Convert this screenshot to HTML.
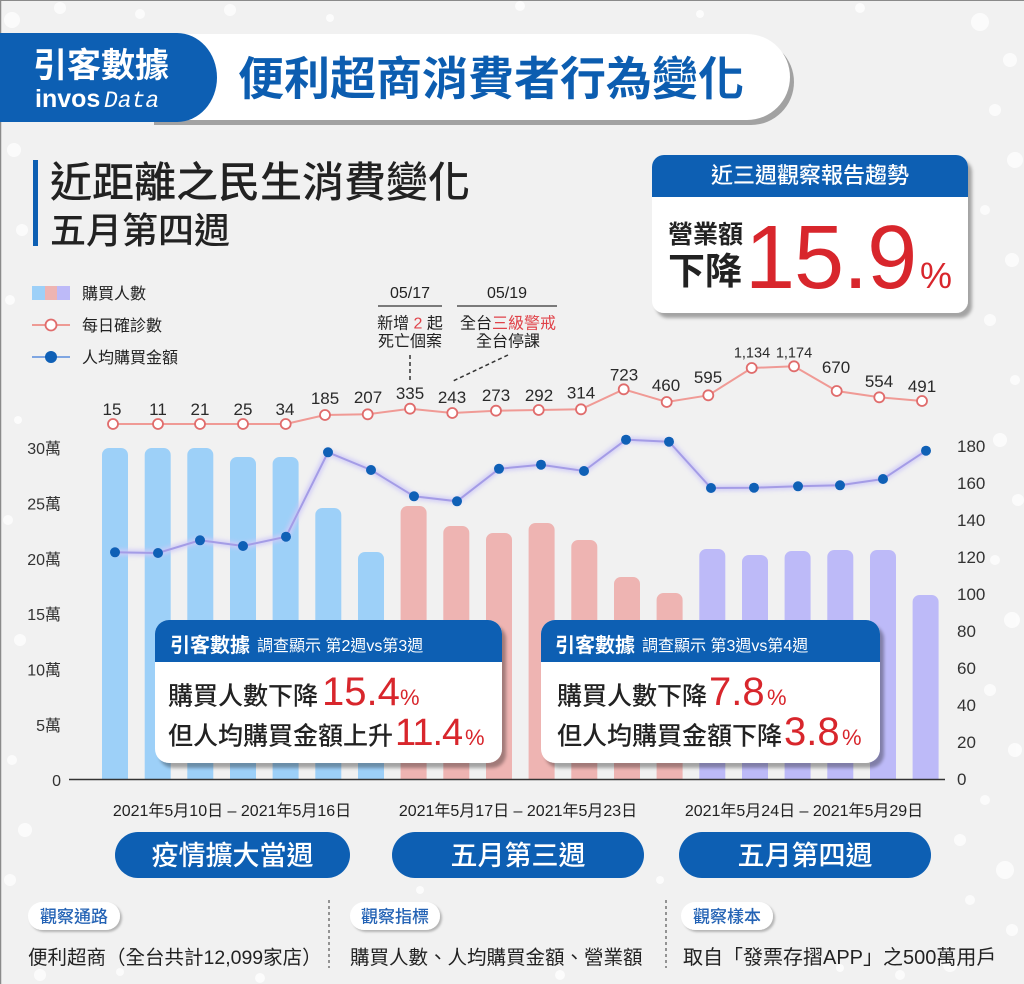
<!DOCTYPE html>
<html>
<head>
<meta charset="utf-8">
<style>
  html, body { margin:0; padding:0; background:#f1f1f1; }
  body { width:1024px; height:984px; overflow:hidden; }
  svg { display:block; }
  text { font-family: "Liberation Sans", "Noto Sans CJK TC", sans-serif; }
</style>
</head>
<body>
<svg width="1024" height="984" viewBox="0 0 1024 984" xmlns="http://www.w3.org/2000/svg">
  <defs>
    <filter id="sh" x="-10%" y="-10%" width="130%" height="140%">
      <feDropShadow dx="4" dy="5" stdDeviation="1.5" flood-color="#000" flood-opacity="0.32"/>
    </filter>
    <filter id="sh2" x="-10%" y="-20%" width="130%" height="160%">
      <feDropShadow dx="2" dy="2" stdDeviation="1" flood-color="#000" flood-opacity="0.25"/>
    </filter>
    <filter id="glow" x="-5%" y="-20%" width="110%" height="140%">
      <feGaussianBlur stdDeviation="2"/>
    </filter>
  </defs>

  <!-- background -->
  <rect x="0" y="0" width="1024" height="984" fill="#f1f1f1"/>
  <g fill="#ffffff" opacity="0.75">
    <circle cx="12" cy="20" r="8"/><circle cx="60" cy="8" r="6"/><circle cx="140" cy="14" r="5"/>
    <circle cx="230" cy="10" r="6"/><circle cx="330" cy="18" r="4"/><circle cx="520" cy="6" r="5"/>
    <circle cx="700" cy="14" r="4"/><circle cx="860" cy="8" r="5"/><circle cx="980" cy="22" r="9"/>
    <circle cx="1010" cy="60" r="7"/><circle cx="995" cy="110" r="6"/><circle cx="1015" cy="160" r="8"/>
    <circle cx="985" cy="210" r="5"/><circle cx="1012" cy="260" r="7"/><circle cx="990" cy="320" r="6"/>
    <circle cx="1015" cy="380" r="5"/><circle cx="1000" cy="440" r="7"/><circle cx="1018" cy="500" r="6"/>
    <circle cx="995" cy="560" r="5"/><circle cx="1012" cy="620" r="8"/><circle cx="990" cy="690" r="6"/>
    <circle cx="1015" cy="750" r="7"/><circle cx="985" cy="800" r="5"/><circle cx="960" cy="840" r="6"/>
    <circle cx="1005" cy="870" r="9"/><circle cx="970" cy="900" r="5"/><circle cx="1012" cy="930" r="6"/>
    <circle cx="950" cy="965" r="7"/><circle cx="900" cy="975" r="5"/><circle cx="840" cy="968" r="4"/>
    <circle cx="14" cy="150" r="7"/><circle cx="22" cy="230" r="6"/><circle cx="10" cy="300" r="5"/>
    <circle cx="18" cy="420" r="4"/><circle cx="8" cy="520" r="5"/><circle cx="20" cy="640" r="6"/>
    <circle cx="12" cy="760" r="5"/><circle cx="25" cy="830" r="7"/><circle cx="10" cy="880" r="6"/>
    <circle cx="40" cy="975" r="6"/><circle cx="120" cy="972" r="4"/><circle cx="260" cy="978" r="5"/>
    <circle cx="420" cy="890" r="4"/><circle cx="560" cy="975" r="5"/><circle cx="660" cy="880" r="4"/>
  </g>
  <!-- image border -->
  <line x1="0.5" y1="0" x2="0.5" y2="984" stroke="#8a8a8a" stroke-width="1.5"/>
  <line x1="0" y1="0.5" x2="1024" y2="0.5" stroke="#8a8a8a" stroke-width="1"/>

  <!-- ===== Header ===== -->
  <path d="M150 34 H747 A43 43 0 0 1 747 120 H150 Z" fill="#a2a2a2" transform="translate(4,5)"/>
  <path d="M150 34 H747 A43 43 0 0 1 747 120 H150 Z" fill="#ffffff"/>
  <path d="M0 33 H177 A40 44.5 0 0 1 177 122 H0 Z" fill="#0d5fb3"/>
  <text x="33" y="77" font-size="34" font-weight="700" fill="#ffffff">引客數據</text>
  <text x="35" y="107" font-size="25" font-weight="700" fill="#ffffff">invos</text>
  <text x="104" y="107" font-size="23" font-style="italic" fill="#ffffff" style="font-family:'Liberation Mono', monospace;">Data</text>
  <text x="238" y="95" font-size="46" font-weight="700" fill="#0c5db0">便利超商消費者行為變化</text>

  <!-- ===== Title ===== -->
  <rect x="33" y="160" width="5" height="86" fill="#0d5fb3"/>
  <text x="50" y="197" font-size="42" font-weight="500" fill="#222">近距離之民生消費變化</text>
  <text x="50" y="243" font-size="36" font-weight="500" fill="#222">五月第四週</text>

  <!-- ===== Top-right box ===== -->
  <g filter="url(#sh)">
    <rect x="652" y="155" width="316" height="158" rx="12" fill="#ffffff"/>
  </g>
  <path d="M652 197 V167 A12 12 0 0 1 664 155 H956 A12 12 0 0 1 968 167 V197 Z" fill="#0d5fb3"/>
  <text x="810" y="183" font-size="22" font-weight="500" fill="#ffffff" text-anchor="middle">近三週觀察報告趨勢</text>
  <text x="668" y="243" font-size="25" font-weight="700" fill="#222">營業額</text>
  <text x="668" y="284" font-size="37" font-weight="700" fill="#222">下降</text>
  <text x="745" y="288" font-size="90" fill="#d8262c" letter-spacing="-1">15.9</text>
  <text x="920" y="288" font-size="36" fill="#d8262c">%</text>

  <!-- ===== Legend ===== -->
  <rect x="32" y="286" width="13" height="14" fill="#9dd0f8"/>
  <rect x="45" y="286" width="12" height="14" fill="#eeb4b2"/>
  <rect x="57" y="286" width="13" height="14" fill="#bdbaf8"/>
  <text x="82" y="299" font-size="16" fill="#222">購買人數</text>
  <line x1="32" y1="325" x2="70" y2="325" stroke="#ee9a94" stroke-width="2"/>
  <circle cx="51" cy="325" r="5.5" fill="#fff" stroke="#e06c6c" stroke-width="1.8"/>
  <text x="82" y="331" font-size="16" fill="#222">每日確診數</text>
  <line x1="32" y1="357" x2="70" y2="357" stroke="#7fa6e2" stroke-width="2"/>
  <circle cx="51" cy="357" r="6" fill="#0f60b6"/>
  <text x="82" y="363" font-size="16" fill="#222">人均購買金額</text>

  <!-- ===== Annotations ===== -->
  <g font-size="16" fill="#222" text-anchor="middle">
    <text x="410" y="298">05/17</text>
    <text x="410" y="328.5">新增 <tspan fill="#e0434a">2</tspan> 起</text>
    <text x="410" y="346.5">死亡個案</text>
    <text x="507" y="298">05/19</text>
    <text x="508" y="328.5">全台<tspan fill="#e0434a">三級警戒</tspan></text>
    <text x="508" y="346.5">全台停課</text>
  </g>
  <line x1="378" y1="306" x2="442" y2="306" stroke="#333" stroke-width="1.2"/>
  <line x1="457" y1="306" x2="557" y2="306" stroke="#333" stroke-width="1.2"/>
  <line x1="410" y1="355" x2="410" y2="381" stroke="#333" stroke-width="1.5" stroke-dasharray="4 3"/>
  <line x1="508" y1="355" x2="453" y2="381" stroke="#333" stroke-width="1.5" stroke-dasharray="4 3"/>

  <!-- ===== Bars ===== -->
  <g>
    <path d="M102 779 V455 A7 7 0 0 1 109 448 H121 A7 7 0 0 1 128 455 V779 Z" fill="#9dd0f8"/>
    <path d="M144.7 779 V455 A7 7 0 0 1 151.7 448 H163.7 A7 7 0 0 1 170.7 455 V779 Z" fill="#9dd0f8"/>
    <path d="M187.3 779 V455 A7 7 0 0 1 194.3 448 H206.3 A7 7 0 0 1 213.3 455 V779 Z" fill="#9dd0f8"/>
    <path d="M230 779 V464 A7 7 0 0 1 237 457 H249 A7 7 0 0 1 256 464 V779 Z" fill="#9dd0f8"/>
    <path d="M272.6 779 V464 A7 7 0 0 1 279.6 457 H291.6 A7 7 0 0 1 298.6 464 V779 Z" fill="#9dd0f8"/>
    <path d="M315.3 779 V515 A7 7 0 0 1 322.3 508 H334.3 A7 7 0 0 1 341.3 515 V779 Z" fill="#9dd0f8"/>
    <path d="M358 779 V559 A7 7 0 0 1 365 552 H377 A7 7 0 0 1 384 559 V779 Z" fill="#9dd0f8"/>
    <path d="M400.6 779 V513 A7 7 0 0 1 407.6 506 H419.6 A7 7 0 0 1 426.6 513 V779 Z" fill="#eeb4b2"/>
    <path d="M443.3 779 V533 A7 7 0 0 1 450.3 526 H462.3 A7 7 0 0 1 469.3 533 V779 Z" fill="#eeb4b2"/>
    <path d="M486 779 V540 A7 7 0 0 1 493 533 H505 A7 7 0 0 1 512 540 V779 Z" fill="#eeb4b2"/>
    <path d="M528.6 779 V530 A7 7 0 0 1 535.6 523 H547.6 A7 7 0 0 1 554.6 530 V779 Z" fill="#eeb4b2"/>
    <path d="M571.3 779 V547 A7 7 0 0 1 578.3 540 H590.3 A7 7 0 0 1 597.3 547 V779 Z" fill="#eeb4b2"/>
    <path d="M614 779 V584 A7 7 0 0 1 621 577 H633 A7 7 0 0 1 640 584 V779 Z" fill="#eeb4b2"/>
    <path d="M656.6 779 V600 A7 7 0 0 1 663.6 593 H675.6 A7 7 0 0 1 682.6 600 V779 Z" fill="#eeb4b2"/>
    <path d="M699.3 779 V556 A7 7 0 0 1 706.3 549 H718.3 A7 7 0 0 1 725.3 556 V779 Z" fill="#bdbaf8"/>
    <path d="M742 779 V562 A7 7 0 0 1 749 555 H761 A7 7 0 0 1 768 562 V779 Z" fill="#bdbaf8"/>
    <path d="M784.6 779 V558 A7 7 0 0 1 791.6 551 H803.6 A7 7 0 0 1 810.6 558 V779 Z" fill="#bdbaf8"/>
    <path d="M827.3 779 V557 A7 7 0 0 1 834.3 550 H846.3 A7 7 0 0 1 853.3 557 V779 Z" fill="#bdbaf8"/>
    <path d="M870 779 V557 A7 7 0 0 1 877 550 H889 A7 7 0 0 1 896 557 V779 Z" fill="#bdbaf8"/>
    <path d="M912.6 779 V602 A7 7 0 0 1 919.6 595 H931.6 A7 7 0 0 1 938.6 602 V779 Z" fill="#bdbaf8"/>
  </g>

  <!-- axis baseline -->
  <line x1="69" y1="779.5" x2="945" y2="779.5" stroke="#333" stroke-width="1.5"/>

  <!-- left axis labels -->
  <g font-size="16" fill="#333" text-anchor="end">
    <text x="61" y="454">30萬</text>
    <text x="61" y="509.5">25萬</text>
    <text x="61" y="565">20萬</text>
    <text x="61" y="620">15萬</text>
    <text x="61" y="675.5">10萬</text>
    <text x="61" y="731">5萬</text>
    <text x="61" y="786">0</text>
  </g>
  <!-- right axis labels -->
  <g font-size="17" fill="#333">
    <text x="957" y="452">180</text>
    <text x="957" y="489">160</text>
    <text x="957" y="526">140</text>
    <text x="957" y="563">120</text>
    <text x="957" y="600">100</text>
    <text x="957" y="637">80</text>
    <text x="957" y="674">60</text>
    <text x="957" y="711">40</text>
    <text x="957" y="748">20</text>
    <text x="957" y="785">0</text>
  </g>

  <!-- blue (avg spend) line -->
  <polyline fill="none" stroke="#cfcaf7" stroke-width="6" filter="url(#glow)" opacity="0.9"
    points="115,552.3 158,553 200,540.3 243,546 286,536.7 328,452.3 371,470 414,496.3 457,501.3 499,468.8 541,464.7 584,471 626,439.7 669,441.7 711,488 754,487.7 798,486.3 840,485.3 883,479 926,450.7"/>
  <polyline fill="none" stroke="#a49ce6" stroke-width="2"
    points="115,552.3 158,553 200,540.3 243,546 286,536.7 328,452.3 371,470 414,496.3 457,501.3 499,468.8 541,464.7 584,471 626,439.7 669,441.7 711,488 754,487.7 798,486.3 840,485.3 883,479 926,450.7"/>
  <g fill="#0f60b6">
    <circle cx="115" cy="552.3" r="5"/><circle cx="158" cy="553" r="5"/><circle cx="200" cy="540.3" r="5"/>
    <circle cx="243" cy="546" r="5"/><circle cx="286" cy="536.7" r="5"/><circle cx="328" cy="452.3" r="5"/>
    <circle cx="371" cy="470" r="5"/><circle cx="414" cy="496.3" r="5"/><circle cx="457" cy="501.3" r="5"/>
    <circle cx="499" cy="468.8" r="5"/><circle cx="541" cy="464.7" r="5"/><circle cx="584" cy="471" r="5"/>
    <circle cx="626" cy="439.7" r="5"/><circle cx="669" cy="441.7" r="5"/><circle cx="711" cy="488" r="5"/>
    <circle cx="754" cy="487.7" r="5"/><circle cx="798" cy="486.3" r="5"/><circle cx="840" cy="485.3" r="5"/>
    <circle cx="883" cy="479" r="5"/><circle cx="926" cy="450.7" r="5"/>
  </g>

  <!-- red (daily cases) line -->
  <polyline fill="none" stroke="#f09a95" stroke-width="2"
    points="113,424 158,424 200,424 243,424 285.7,424 325,415 367.7,414.3 410,408.7 452.3,413 496,410.7 538.7,410 581,409.3 623.7,389.3 666.7,402 708.3,395.3 751.7,368 794,366.3 836.7,391 879.3,397.3 922,401"/>
  <g fill="#ffffff" stroke="#e06c6c" stroke-width="1.8">
    <circle cx="113" cy="424" r="5"/><circle cx="158" cy="424" r="5"/><circle cx="200" cy="424" r="5"/>
    <circle cx="243" cy="424" r="5"/><circle cx="285.7" cy="424" r="5"/><circle cx="325" cy="415" r="5"/>
    <circle cx="367.7" cy="414.3" r="5"/><circle cx="410" cy="408.7" r="5"/><circle cx="452.3" cy="413" r="5"/>
    <circle cx="496" cy="410.7" r="5"/><circle cx="538.7" cy="410" r="5"/><circle cx="581" cy="409.3" r="5"/>
    <circle cx="623.7" cy="389.3" r="5"/><circle cx="666.7" cy="402" r="5"/><circle cx="708.3" cy="395.3" r="5"/>
    <circle cx="751.7" cy="368" r="5"/><circle cx="794" cy="366.3" r="5"/><circle cx="836.7" cy="391" r="5"/>
    <circle cx="879.3" cy="397.3" r="5"/><circle cx="922" cy="401" r="5"/>
  </g>
  <g font-size="17" fill="#2a2a2a" text-anchor="middle">
    <text x="112" y="415">15</text>
    <text x="158" y="415">11</text>
    <text x="200" y="415">21</text>
    <text x="243" y="415">25</text>
    <text x="285" y="415">34</text>
    <text x="325" y="404">185</text>
    <text x="368" y="403">207</text>
    <text x="410" y="399">335</text>
    <text x="452" y="403">243</text>
    <text x="496" y="401">273</text>
    <text x="539" y="401">292</text>
    <text x="581" y="398.5">314</text>
    <text x="624" y="380.5">723</text>
    <text x="666" y="391">460</text>
    <text x="708" y="383">595</text>
    <text x="752" y="357.7" font-size="14.5">1,134</text>
    <text x="794" y="357.7" font-size="14.5">1,174</text>
    <text x="836" y="373">670</text>
    <text x="879" y="387">554</text>
    <text x="922" y="392">491</text>
  </g>

  <!-- ===== Callout box 1 ===== -->
  <g filter="url(#sh)">
    <rect x="155" y="620" width="347" height="143" rx="14" fill="#ffffff"/>
  </g>
  <path d="M155 662 V634 A14 14 0 0 1 169 620 H488 A14 14 0 0 1 502 634 V662 Z" fill="#0d5fb3"/>
  <text x="170" y="652" font-size="20" font-weight="700" fill="#fff">引客數據</text>
  <text x="257" y="651" font-size="16" fill="#fff">調查顯示 第2週vs第3週</text>
  <text x="168" y="704.5" font-size="25" font-weight="500" fill="#222">購買人數下降</text>
  <text x="322" y="705" font-size="40" fill="#d8262c">15.4</text>
  <text x="400" y="705" font-size="22" fill="#d8262c">%</text>
  <text x="168" y="744.5" font-size="25" font-weight="500" fill="#222">但人均購買金額上升</text>
  <text x="395" y="745" font-size="38" fill="#d8262c" letter-spacing="-1">11.4</text>
  <text x="465" y="745" font-size="22" fill="#d8262c">%</text>

  <!-- ===== Callout box 2 ===== -->
  <g filter="url(#sh)">
    <rect x="541" y="620" width="339" height="143" rx="14" fill="#ffffff"/>
  </g>
  <path d="M541 662 V634 A14 14 0 0 1 555 620 H866 A14 14 0 0 1 880 634 V662 Z" fill="#0d5fb3"/>
  <text x="555" y="652" font-size="20" font-weight="700" fill="#fff">引客數據</text>
  <text x="642" y="651" font-size="16" fill="#fff">調查顯示 第3週vs第4週</text>
  <text x="557" y="704.5" font-size="25" font-weight="500" fill="#222">購買人數下降</text>
  <text x="709" y="705" font-size="40" fill="#d8262c">7.8</text>
  <text x="767" y="705" font-size="22" fill="#d8262c">%</text>
  <text x="557" y="744.5" font-size="25" font-weight="500" fill="#222">但人均購買金額下降</text>
  <text x="784" y="745" font-size="40" fill="#d8262c">3.8</text>
  <text x="842" y="745" font-size="22" fill="#d8262c">%</text>

  <!-- ===== Date labels ===== -->
  <g font-size="16" fill="#222" text-anchor="middle">
    <text x="232" y="816">2021年5月10日 – 2021年5月16日</text>
    <text x="518" y="816">2021年5月17日 – 2021年5月23日</text>
    <text x="804" y="816">2021年5月24日 – 2021年5月29日</text>
  </g>

  <!-- ===== Week pills ===== -->
  <rect x="115" y="832" width="235" height="46" rx="23" fill="#0d5fb3"/>
  <rect x="392" y="832" width="252" height="46" rx="23" fill="#0d5fb3"/>
  <rect x="679" y="832" width="252" height="46" rx="23" fill="#0d5fb3"/>
  <g font-size="27" fill="#fff" text-anchor="middle" font-weight="500">
    <text x="232.5" y="865">疫情擴大當週</text>
    <text x="518" y="865">五月第三週</text>
    <text x="805" y="865">五月第四週</text>
  </g>

  <!-- ===== Bottom info ===== -->
  <g filter="url(#sh2)" fill="#ffffff">
    <rect x="28" y="902" width="92" height="28" rx="14"/>
    <rect x="350" y="902" width="90" height="28" rx="14"/>
    <rect x="681" y="902" width="92" height="28" rx="14"/>
  </g>
  <g font-size="17" fill="#2463b5" font-weight="500" text-anchor="middle">
    <text x="74" y="922.5">觀察通路</text>
    <text x="395" y="922.5">觀察指標</text>
    <text x="727" y="922.5">觀察樣本</text>
  </g>
  <line x1="329" y1="900" x2="329" y2="968" stroke="#555" stroke-width="1.2" stroke-dasharray="3 3"/>
  <line x1="666" y1="900" x2="666" y2="968" stroke="#555" stroke-width="1.2" stroke-dasharray="3 3"/>
  <text x="28" y="964" font-size="19.5" fill="#222">便利超商（全台共計12,099家店）</text>
  <text x="350" y="964" font-size="19.5" fill="#222">購買人數、人均購買金額、營業額</text>
  <text x="683" y="964" font-size="20" fill="#222">取自「發票存摺APP」之500萬用戶</text>
</svg>
</body>
</html>
